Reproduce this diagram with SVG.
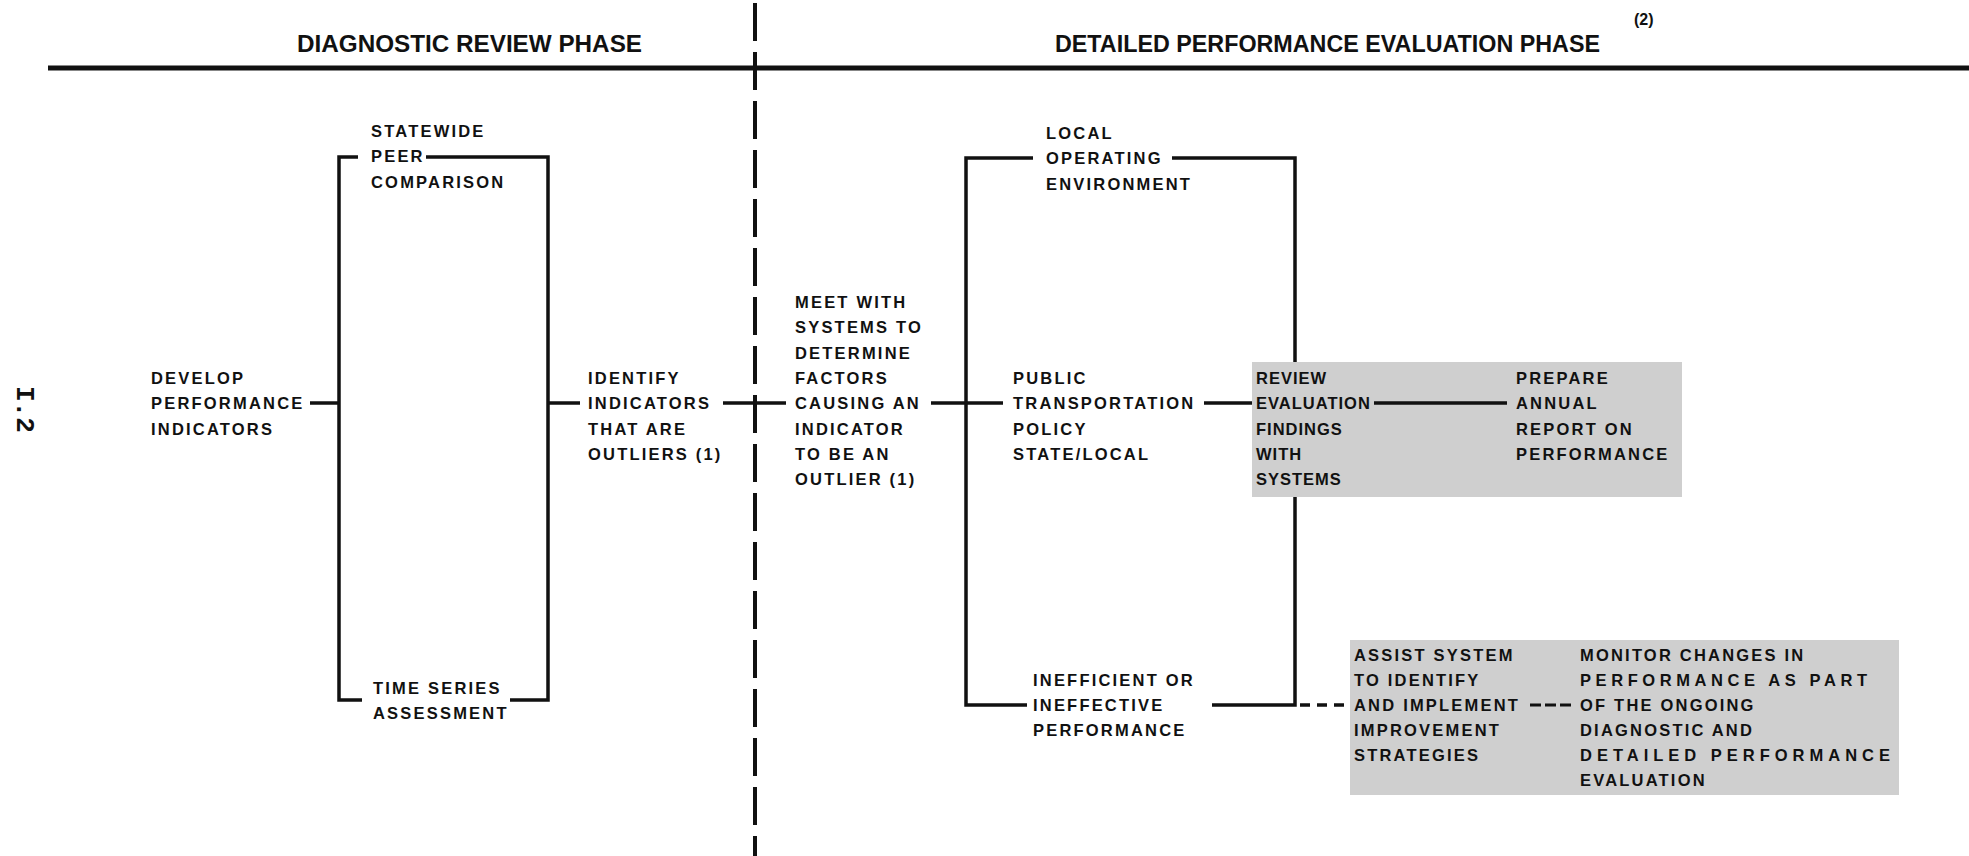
<svg xmlns="http://www.w3.org/2000/svg" width="1969" height="856" viewBox="0 0 1969 856">
<style>
.t{font-family:"Liberation Sans",Arial,sans-serif;font-weight:bold;font-size:16.5px;letter-spacing:2.2px;fill:#111}
.b1{letter-spacing:1px}
.j{letter-spacing:0}
.h{font-family:"Liberation Sans",Arial,sans-serif;font-weight:bold;font-size:24.5px;fill:#111}
.sup{font-family:"Liberation Sans",Arial,sans-serif;font-weight:bold;font-size:16px;fill:#111}
.ln{fill:none;stroke:#111;stroke-width:3.5}
.dsh{fill:none;stroke:#111;stroke-width:3.5;stroke-dasharray:10 7}
.dsh2{fill:none;stroke:#111;stroke-width:3;stroke-dasharray:11 4}
.box{fill:#cfcfcf}
</style>
<rect width="1969" height="856" fill="#fff"/>
<g id="header">
<text class="h" x="297" y="52" textLength="345" lengthAdjust="spacingAndGlyphs">DIAGNOSTIC REVIEW PHASE</text>
<text class="h" x="1055" y="52" textLength="545" lengthAdjust="spacingAndGlyphs">DETAILED PERFORMANCE EVALUATION PHASE</text>
<text class="sup" x="1634" y="25">(2)</text>
<line x1="48" y1="68" x2="1969" y2="68" stroke="#111" stroke-width="5"/>
<line x1="755" y1="3" x2="755" y2="856" stroke="#111" stroke-width="4" stroke-dasharray="38 11"/>
</g>
<text transform="translate(17,386) rotate(90)" font-family="'Liberation Mono',monospace" font-weight="bold" font-size="26" fill="#111">I.2</text>
<g id="develop"><text class="t" x="151" y="384"><tspan x="151">DEVELOP</tspan><tspan x="151" dy="25.3">PERFORMANCE</tspan><tspan x="151" dy="25.3">INDICATORS</tspan></text></g>
<g id="statewide"><text class="t" x="371" y="137"><tspan x="371">STATEWIDE</tspan><tspan x="371" dy="25.3">PEER</tspan><tspan x="371" dy="25.3">COMPARISON</tspan></text></g>
<g id="timeseries"><text class="t" x="373" y="694"><tspan x="373">TIME SERIES</tspan><tspan x="373" dy="25.3">ASSESSMENT</tspan></text></g>
<g id="identify"><text class="t" x="588" y="384"><tspan x="588">IDENTIFY</tspan><tspan x="588" dy="25.3">INDICATORS</tspan><tspan x="588" dy="25.3">THAT ARE</tspan><tspan x="588" dy="25.3">OUTLIERS (1)</tspan></text></g>
<g id="meet"><text class="t" x="795" y="308"><tspan x="795">MEET WITH</tspan><tspan x="795" dy="25.3">SYSTEMS TO</tspan><tspan x="795" dy="25.3">DETERMINE</tspan><tspan x="795" dy="25.3">FACTORS</tspan><tspan x="795" dy="25.3">CAUSING AN</tspan><tspan x="795" dy="25.3">INDICATOR</tspan><tspan x="795" dy="25.3">TO BE AN</tspan><tspan x="795" dy="25.3">OUTLIER (1)</tspan></text></g>
<g id="local"><text class="t" x="1046" y="139"><tspan x="1046">LOCAL</tspan><tspan x="1046" dy="25.3">OPERATING</tspan><tspan x="1046" dy="25.3">ENVIRONMENT</tspan></text></g>
<g id="public"><text class="t" x="1013" y="384"><tspan x="1013">PUBLIC</tspan><tspan x="1013" dy="25.3">TRANSPORTATION</tspan><tspan x="1013" dy="25.3">POLICY</tspan><tspan x="1013" dy="25.3">STATE/LOCAL</tspan></text></g>
<g id="inefficient"><text class="t" x="1033" y="686"><tspan x="1033">INEFFICIENT OR</tspan><tspan x="1033" dy="25">INEFFECTIVE</tspan><tspan x="1033" dy="25">PERFORMANCE</tspan></text></g>
<g id="review">
<rect class="box" x="1252" y="362" width="430" height="135"/>
<text class="t b1" x="1256" y="384"><tspan x="1256">REVIEW</tspan><tspan x="1256" dy="25.3">EVALUATION</tspan><tspan x="1256" dy="25.3">FINDINGS</tspan><tspan x="1256" dy="25.3">WITH</tspan><tspan x="1256" dy="25.3">SYSTEMS</tspan></text>
</g>
<g id="prepare"><text class="t" x="1516" y="384"><tspan x="1516">PREPARE</tspan><tspan x="1516" dy="25.3">ANNUAL</tspan><tspan x="1516" dy="25.3">REPORT ON</tspan><tspan x="1516" dy="25.3">PERFORMANCE</tspan></text></g>
<g id="assist">
<rect class="box" x="1350" y="640" width="549" height="155"/>
<text class="t" x="1354" y="661"><tspan x="1354">ASSIST SYSTEM</tspan><tspan x="1354" dy="25">TO IDENTIFY</tspan><tspan x="1354" dy="25">AND IMPLEMENT</tspan><tspan x="1354" dy="25">IMPROVEMENT</tspan><tspan x="1354" dy="25">STRATEGIES</tspan></text>
</g>
<g id="monitor">
<text class="t" x="1580" y="661">MONITOR CHANGES IN</text>
<text class="t j" x="1580" y="686" textLength="287">PERFORMANCE AS PART</text>
<text class="t" x="1580" y="711">OF THE ONGOING</text>
<text class="t" x="1580" y="736">DIAGNOSTIC AND</text>
<text class="t j" x="1580" y="761" textLength="310">DETAILED PERFORMANCE</text>
<text class="t" x="1580" y="786">EVALUATION</text>
</g>
<g id="connectors">
<path class="ln" d="M310 403H339"/>
<path class="ln" d="M358 157H339V700H362"/>
<path class="ln" d="M426 157H548V700H510"/>
<path class="ln" d="M548 403H580"/>
<path class="ln" d="M723 403H786"/>
<path class="ln" d="M931 403H1003"/>
<path class="ln" d="M1033 158H966V705H1027"/>
<path class="ln" d="M1172 158H1295V362"/>
<path class="ln" d="M1295 497V705H1212"/>
<path class="dsh" d="M1300 705H1348"/>
<path class="ln" d="M1204 403H1252"/>
<path class="ln" d="M1374 403H1507"/>
<path class="dsh2" d="M1530 705H1574"/>
</g>
</svg>
